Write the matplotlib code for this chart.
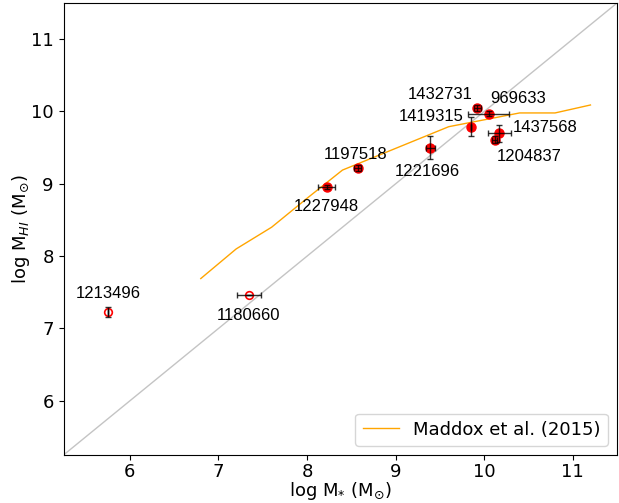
import numpy as np
import matplotlib
matplotlib.use("Agg")
import matplotlib.pyplot as plt


# galaxies: log M*, log MHI and errors
names = ["1213496", "1180660", "1227948", "1197518", "1221696",
         "1419315", "1432731", "969633", "1437568", "1204837"]
log_mstar = [5.75, 7.34, 8.22, 8.57, 9.39, 9.85, 9.92, 10.05, 10.17, 10.12]
log_mhi = [7.23, 7.46, 8.96, 9.22, 9.50, 9.79, 10.05, 9.97, 9.70, 9.61]
xerr = [0.0, 0.135, 0.10, 0.04, 0.05, 0.0, 0.04, 0.235, 0.13, 0.03]
yerr = [0.07, 0.0, 0.03, 0.04, 0.16, 0.13, 0.045, 0.03, 0.12, 0.05]
is_open = [True, True, False, False, False, False, False, False, False, False]

# label offsets in pixels (dx, dy)
label_dx = [0, 0, 0, -2, -3, -40, -37, 30, 46, 34]
label_dy = [18, -20, -20, 13, -24, 10, 13, 15, 6, -17]

# Maddox et al. (2015) relation
maddox_mstar = [6.8, 7.2, 7.6, 8.0, 8.4, 8.8, 9.2, 9.6, 10.0, 10.4, 10.8, 11.2]
maddox_mhi = [7.69, 8.10, 8.40, 8.80, 9.19, 9.39, 9.59, 9.79, 9.885, 9.98, 9.98, 10.09]

LIM = (5.25, 11.5)

fig = plt.figure(figsize=(6.19, 5.03), dpi=100)
ax = fig.add_axes([0.1026, 0.0954, 0.8942, 0.8986])

ax.plot(LIM, LIM, color="#c4c4c4", lw=1, zorder=1)
ax.plot(maddox_mstar, maddox_mhi, color="orange", lw=1,
        label="Maddox et al. (2015)", zorder=2)

x = np.array(log_mstar)
y = np.array(log_mhi)
op = np.array(is_open)

ax.plot(x[~op], y[~op], "o", color="red", ms=6.5, mec="red", zorder=3)
ax.plot(x[op], y[op], "o", mfc="white", mec="red", ms=5.5, mew=1.2, zorder=3)
ax.errorbar(x, y, xerr=xerr, yerr=yerr, fmt="none", ecolor="black",
            elinewidth=1, capsize=2.5, capthick=1, zorder=4, alpha=0.8)

for i, name in enumerate(names):
    ax.annotate(name, (log_mstar[i], log_mhi[i]),
                xytext=(label_dx[i], label_dy[i]), textcoords="offset pixels",
                ha="center", va="center", fontsize=12,
                family=["Liberation Sans", "DejaVu Sans"])

ax.set_xlim(*LIM)
ax.set_ylim(*LIM)
ax.set_xticks([6, 7, 8, 9, 10, 11])
ax.set_yticks([6, 7, 8, 9, 10, 11])
ax.tick_params(labelsize=13)
ax.tick_params(axis="x", pad=2.5)
ax.set_xlabel(r"log M$_{*}$ (M$_{\odot}$)", fontsize=13, labelpad=-1)
ax.set_ylabel(r"log M$_{HI}$ (M$_{\odot}$)", fontsize=13, labelpad=-1)
ax.legend(loc="lower right", fontsize=13)

fig.savefig("out.png", dpi=100)
